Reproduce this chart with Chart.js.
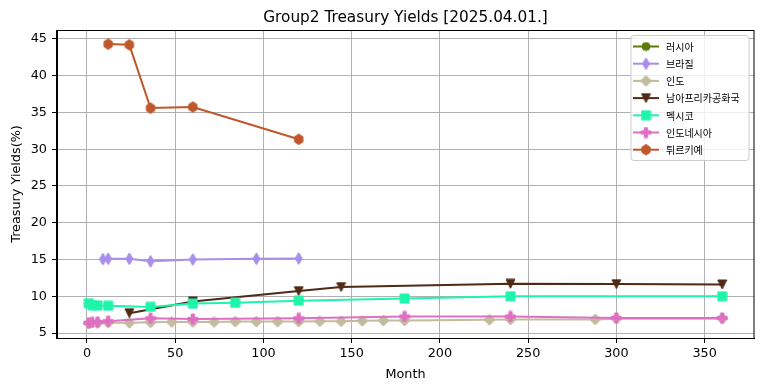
<!DOCTYPE html>
<html>
<head>
<meta charset="utf-8">
<script src="https://cdn.jsdelivr.net/npm/chart.js@4.4.1/dist/chart.umd.min.js"></script>
<style>
  html, body { margin: 0; padding: 0; background: #fff; }
</style>
</head>
<body>
<canvas id="myChart" width="764" height="391"></canvas>
<script>
// data (month -> yield %)
const chartTitle = 'Group2 Treasury Yields [2025.04.01.]';
const seriesNames = ['러시아', '브라질', '인도', '남아프리카공화국', '멕시코', '인도네시아', '튀르키예'];

const russiaMonths = [];
const russiaYields = [];

const brazilMonths = [9, 12, 24, 36, 60, 96, 120];
const brazilYields = [15.05, 15.1, 15.1, 14.75, 15.0, 15.1, 15.15];

const indiaMonths = [1, 6, 12, 24, 36, 48, 60, 72, 84, 96, 108, 120, 132, 144, 156, 168, 180, 228, 240, 288, 300, 360];
const indiaYields = [6.3, 6.35, 6.4, 6.4, 6.45, 6.5, 6.5, 6.5, 6.55, 6.55, 6.55, 6.55, 6.6, 6.6, 6.65, 6.7, 6.7, 6.8, 6.85, 6.85, 6.95, 6.95];

const safricaMonths = [24, 60, 120, 144, 240, 300, 360];
const safricaYields = [7.7, 9.3, 10.7, 11.25, 11.7, 11.65, 11.6];

const mexicoMonths = [1, 3, 6, 12, 36, 60, 84, 120, 180, 240, 360];
const mexicoYields = [9.05, 8.8, 8.75, 8.7, 8.55, 9.0, 9.1, 9.4, 9.7, 10.0, 10.0];

const indonesiaMonths = [1, 3, 6, 12, 36, 60, 120, 180, 240, 300, 360];
const indonesiaYields = [6.4, 6.45, 6.5, 6.6, 7.0, 6.9, 7.0, 7.25, 7.25, 7.05, 7.05];

const turkiyeMonths = [12, 24, 36, 60, 120];
const turkiyeYields = [44.3, 44.2, 35.6, 35.75, 31.35];

const xTicks = [0, 50, 100, 150, 200, 250, 300, 350];
const yTicks = [5, 10, 15, 20, 25, 30, 35, 40, 45];

const colors = ['#5b7c09', '#a88ee8', '#c3bb9f', '#4f2a14', '#1ef5ab', '#df6fc3', '#c0572b'];

// small canvases used as matplotlib-like markers
function markerCanvas(shape, color, w, h) {
  h = h || w;
  const c = document.createElement('canvas');
  c.width = Math.ceil(w) + 2;
  c.height = Math.ceil(h) + 2;
  const g = c.getContext('2d');
  const mx = c.width / 2, my = c.height / 2, rx = w / 2, ry = h / 2;
  g.fillStyle = color;
  g.strokeStyle = color;
  g.lineWidth = 1;
  g.beginPath();
  if (shape === 'circle') {
    g.arc(mx, my, rx, 0, Math.PI * 2);
  } else if (shape === 'square') {
    g.rect(mx - rx, my - ry, w, h);
  } else if (shape === 'diamond') {
    g.moveTo(mx, my - ry); g.lineTo(mx + rx, my); g.lineTo(mx, my + ry); g.lineTo(mx - rx, my);
  } else if (shape === 'triangleDown') {
    g.moveTo(mx - rx, my - ry); g.lineTo(mx + rx, my - ry); g.lineTo(mx, my + ry);
  } else if (shape === 'hexagon') {
    for (let k = 0; k < 6; k++) {
      const a = (-90 + 60 * k) * Math.PI / 180;
      const px = mx + rx * Math.cos(a), py = my + ry * Math.sin(a);
      if (k === 0) g.moveTo(px, py); else g.lineTo(px, py);
    }
  } else if (shape === 'plus') {
    const t = rx / 3;
    g.moveTo(mx - t, my - ry); g.lineTo(mx + t, my - ry); g.lineTo(mx + t, my - t);
    g.lineTo(mx + rx, my - t); g.lineTo(mx + rx, my + t); g.lineTo(mx + t, my + t);
    g.lineTo(mx + t, my + ry); g.lineTo(mx - t, my + ry); g.lineTo(mx - t, my + t);
    g.lineTo(mx - rx, my + t); g.lineTo(mx - rx, my - t); g.lineTo(mx - t, my - t);
  }
  g.closePath();
  g.fill();
  g.stroke();
  return c;
}

const markers = [
  markerCanvas('circle', colors[0], 8),
  markerCanvas('diamond', colors[1], 7, 12),
  markerCanvas('diamond', colors[2], 11),
  markerCanvas('triangleDown', colors[3], 9, 9),
  markerCanvas('square', colors[4], 9),
  markerCanvas('plus', colors[5], 10),
  markerCanvas('hexagon', colors[6], 9.5, 10.5)
];

function toPoints(xs, ys) {
  return xs.map((x, i) => ({ x: x, y: ys[i] }));
}

const allMonths = [russiaMonths, brazilMonths, indiaMonths, safricaMonths, mexicoMonths, indonesiaMonths, turkiyeMonths];
const allYields = [russiaYields, brazilYields, indiaYields, safricaYields, mexicoYields, indonesiaYields, turkiyeYields];

const datasets = seriesNames.map((name, i) => ({
  label: name,
  data: toPoints(allMonths[i], allYields[i]),
  borderColor: colors[i],
  backgroundColor: colors[i],
  borderWidth: 2,
  pointStyle: markers[i],
  pointRadius: 5,
  pointHoverRadius: 5,
  tension: 0,
  fill: false,
  order: seriesNames.length - i  // later series drawn on top, like matplotlib
}));

// white background
const bgPlugin = {
  id: 'bg',
  beforeDraw: (chart) => {
    const ctx = chart.ctx;
    ctx.save();
    ctx.fillStyle = '#fff';
    ctx.fillRect(0, 0, chart.width, chart.height);
    ctx.restore();
  }
};

// title centred over the axes, top/right spines, legend box in the upper right
const frameLegendPlugin = {
  id: 'frameLegend',
  afterDraw: (chart) => {
    const ctx = chart.ctx;
    const a = chart.chartArea;
    ctx.save();
    ctx.strokeStyle = '#000';
    ctx.lineWidth = 1;
    ctx.strokeRect(Math.round(a.left) - 0.5, Math.round(a.top) + 0.5, Math.round(a.right - a.left) + 0.5, Math.round(a.bottom - a.top));

    ctx.fillStyle = '#000';
    ctx.font = '15.3px "DejaVu Sans"';
    ctx.textAlign = 'center';
    ctx.textBaseline = 'alphabetic';
    ctx.fillText(chartTitle, (a.left + a.right) / 2, 22);

    // legend
    const lx = 631, ly = 35.5, lw = 118, lh = 125, r = 3;
    ctx.beginPath();
    ctx.moveTo(lx + r, ly);
    ctx.arcTo(lx + lw, ly, lx + lw, ly + lh, r);
    ctx.arcTo(lx + lw, ly + lh, lx, ly + lh, r);
    ctx.arcTo(lx, ly + lh, lx, ly, r);
    ctx.arcTo(lx, ly, lx + lw, ly, r);
    ctx.closePath();
    ctx.fillStyle = 'rgba(255,255,255,0.8)';
    ctx.fill();
    ctx.strokeStyle = '#cccccc';
    ctx.stroke();

    chart.data.datasets.forEach((ds, i) => {
      const y = 46.5 + i * 17.2;
      ctx.beginPath();
      ctx.strokeStyle = ds.borderColor;
      ctx.lineWidth = 2;
      ctx.moveTo(633, y);
      ctx.lineTo(659, y);
      ctx.stroke();
      const img = ds.pointStyle;
      ctx.drawImage(img, 646 - img.width / 2, y - img.height / 2);
      ctx.fillStyle = '#000';
      ctx.font = '10px "Noto Sans CJK KR"';
      ctx.textBaseline = 'middle';
      ctx.textAlign = 'left';
      ctx.fillText(ds.label, 666, y + 0.5);
    });
    ctx.restore();
  }
};

const config = {
  type: 'line',
  data: { datasets: datasets },
  options: {
    responsive: false,
    animation: false,
    devicePixelRatio: 1,
    layout: { padding: { left: 0, right: 10, top: 30, bottom: 0 } },
    plugins: {
      legend: { display: false },
      tooltip: { enabled: false },
      title: { display: false }
    },
    scales: {
      x: {
        type: 'linear',
        min: -17,
        max: 378,
        afterBuildTicks: (scale) => { scale.ticks = xTicks.map(v => ({ value: v })); },
        afterFit: (scale) => { scale.height = 53; },
        ticks: {
          color: '#000',
          font: { family: 'DejaVu Sans', size: 12.8 },
          padding: 3,
          maxRotation: 0,
          autoSkip: false
        },
        grid: { color: '#b0b0b0', lineWidth: 1, tickColor: '#000', tickLength: 5 },
        border: { color: '#000', width: 1 },
        title: {
          display: true,
          text: 'Month',
          color: '#000',
          font: { family: 'DejaVu Sans', size: 12.8 },
          padding: { top: 0, bottom: 9 }
        }
      },
      y: {
        type: 'linear',
        min: 4.32,
        max: 46.22,
        afterBuildTicks: (scale) => { scale.ticks = yTicks.map(v => ({ value: v })); },
        afterFit: (scale) => { scale.width = 57; },
        ticks: {
          color: '#000',
          font: { family: 'DejaVu Sans', size: 12.8 },
          padding: 5,
          autoSkip: false
        },
        grid: { color: '#b0b0b0', lineWidth: 1, tickColor: '#000', tickLength: 5 },
        border: { color: '#000', width: 1 },
        title: {
          display: true,
          text: 'Treasury Yields(%)',
          color: '#000',
          font: { family: 'DejaVu Sans', size: 12.8 },
          padding: { top: 9, bottom: 0 }
        }
      }
    }
  },
  plugins: [bgPlugin, frameLegendPlugin]
};

const ctx = document.getElementById('myChart').getContext('2d');
const chart = new Chart(ctx, config);
</script>
</body>
</html>
